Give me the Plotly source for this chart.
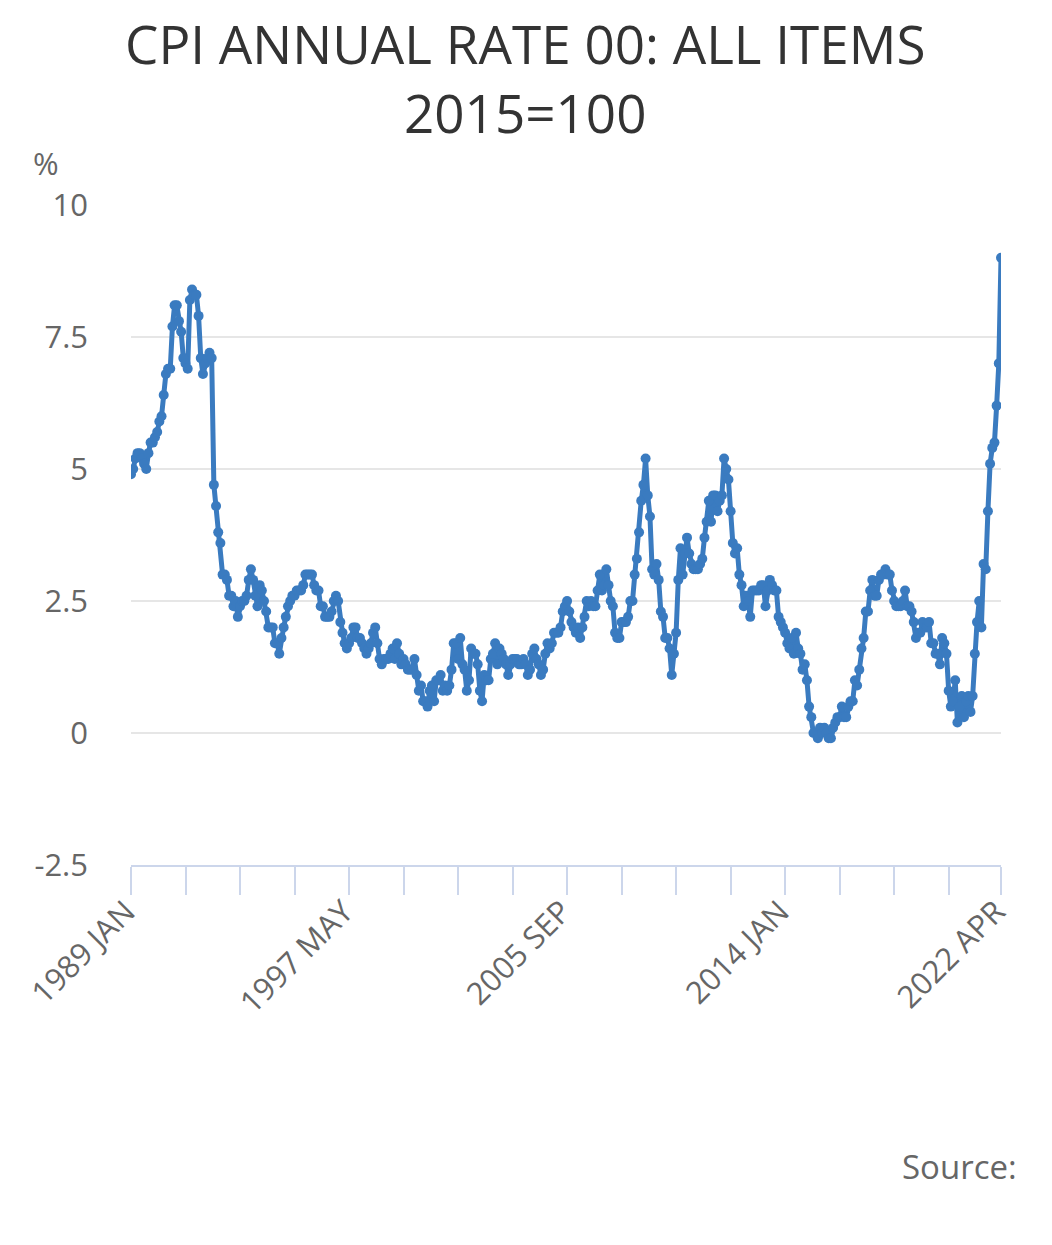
import plotly.graph_objects as go

# ---- data: UK CPI annual rate, monthly (%) ----
cpi_1989 = [4.9, 5.0, 5.2, 5.3, 5.3, 5.2, 5.1, 5.0, 5.3, 5.5, 5.5, 5.6]
cpi_1990 = [5.7, 5.9, 6.0, 6.4, 6.8, 6.9, 6.9, 7.7, 8.1, 8.1, 7.8, 7.6]
cpi_1991 = [7.1, 7.0, 6.9, 8.2, 8.4, 8.3, 8.3, 7.9, 7.1, 6.8, 7.0, 7.1]
cpi_1992 = [7.2, 7.1, 4.7, 4.3, 3.8, 3.6, 3.0, 3.0, 2.9, 2.6, 2.6, 2.4]
cpi_1993 = [2.5, 2.2, 2.4, 2.5, 2.5, 2.6, 2.9, 3.1, 2.9, 2.6, 2.4, 2.8]
cpi_1994 = [2.7, 2.5, 2.3, 2.0, 2.0, 2.0, 1.7, 1.7, 1.5, 1.8, 2.0, 2.2]
cpi_1995 = [2.4, 2.5, 2.6, 2.6, 2.7, 2.7, 2.7, 2.8, 3.0, 3.0, 3.0, 3.0]
cpi_1996 = [2.8, 2.7, 2.7, 2.4, 2.4, 2.2, 2.2, 2.2, 2.3, 2.5, 2.6, 2.5]
cpi_1997 = [2.1, 1.9, 1.7, 1.6, 1.7, 1.8, 2.0, 2.0, 1.8, 1.8, 1.7, 1.6]
cpi_1998 = [1.5, 1.6, 1.7, 1.9, 2.0, 1.7, 1.4, 1.3, 1.4, 1.4, 1.4, 1.5]
cpi_1999 = [1.6, 1.4, 1.7, 1.5, 1.3, 1.4, 1.3, 1.2, 1.2, 1.2, 1.4, 1.1]
cpi_2000 = [0.8, 0.9, 0.6, 0.6, 0.5, 0.8, 0.9, 0.6, 1.0, 1.0, 1.1, 0.8]
cpi_2001 = [0.9, 0.8, 0.9, 1.2, 1.7, 1.7, 1.4, 1.8, 1.3, 1.2, 0.8, 1.0]
cpi_2002 = [1.6, 1.5, 1.5, 1.3, 0.8, 0.6, 1.1, 1.0, 1.0, 1.4, 1.5, 1.7]
cpi_2003 = [1.3, 1.6, 1.5, 1.4, 1.3, 1.1, 1.3, 1.4, 1.4, 1.4, 1.3, 1.3]
cpi_2004 = [1.4, 1.3, 1.1, 1.2, 1.5, 1.6, 1.4, 1.3, 1.1, 1.2, 1.5, 1.7]
cpi_2005 = [1.6, 1.7, 1.9, 1.9, 1.9, 2.0, 2.3, 2.4, 2.5, 2.3, 2.1, 2.0]
cpi_2006 = [1.9, 2.0, 1.8, 2.0, 2.2, 2.5, 2.4, 2.5, 2.4, 2.4, 2.7, 3.0]
cpi_2007 = [2.7, 2.8, 3.1, 2.8, 2.5, 2.4, 1.9, 1.8, 1.8, 2.1, 2.1, 2.1]
cpi_2008 = [2.2, 2.5, 2.5, 3.0, 3.3, 3.8, 4.4, 4.7, 5.2, 4.5, 4.1, 3.1]
cpi_2009 = [3.0, 3.2, 2.9, 2.3, 2.2, 1.8, 1.8, 1.6, 1.1, 1.5, 1.9, 2.9]
cpi_2010 = [3.5, 3.0, 3.4, 3.7, 3.4, 3.2, 3.1, 3.1, 3.1, 3.2, 3.3, 3.7]
cpi_2011 = [4.0, 4.4, 4.0, 4.5, 4.5, 4.2, 4.4, 4.5, 5.2, 5.0, 4.8, 4.2]
cpi_2012 = [3.6, 3.4, 3.5, 3.0, 2.8, 2.4, 2.6, 2.5, 2.2, 2.7, 2.7, 2.7]
cpi_2013 = [2.7, 2.8, 2.8, 2.4, 2.7, 2.9, 2.8, 2.7, 2.7, 2.2, 2.1, 2.0]
cpi_2014 = [1.9, 1.7, 1.6, 1.8, 1.5, 1.9, 1.6, 1.5, 1.2, 1.3, 1.0, 0.5]
cpi_2015 = [0.3, 0.0, 0.0, -0.1, 0.1, 0.0, 0.1, 0.0, -0.1, -0.1, 0.1, 0.2]
cpi_2016 = [0.3, 0.3, 0.5, 0.3, 0.3, 0.5, 0.6, 0.6, 1.0, 0.9, 1.2, 1.6]
cpi_2017 = [1.8, 2.3, 2.3, 2.7, 2.9, 2.6, 2.6, 2.9, 3.0, 3.0, 3.1, 3.0]
cpi_2018 = [3.0, 2.7, 2.5, 2.4, 2.4, 2.4, 2.5, 2.7, 2.4, 2.4, 2.3, 2.1]
cpi_2019 = [1.8, 1.9, 1.9, 2.1, 2.0, 2.0, 2.1, 1.7, 1.7, 1.5, 1.5, 1.3]
cpi_2020 = [1.8, 1.7, 1.5, 0.8, 0.5, 0.6, 1.0, 0.2, 0.5, 0.7, 0.3, 0.6]
cpi_2021 = [0.7, 0.4, 0.7, 1.5, 2.1, 2.5, 2.0, 3.2, 3.1, 4.2, 5.1, 5.4]
cpi_2022 = [5.5, 6.2, 7.0, 9.0]

month_names = ["JAN", "FEB", "MAR", "APR", "MAY", "JUN",
               "JUL", "AUG", "SEP", "OCT", "NOV", "DEC"]
years = list(range(1989, 2023))
labelled_months = ["1989 JAN", "1997 MAY", "2005 SEP", "2014 JAN", "2022 APR"]
y_ticks = [-2.5, 0, 2.5, 5, 7.5, 10]
y_tick_text = ["-2.5", "0", "2.5", "5", "7.5", "10"]
title_text = "CPI ANNUAL RATE 00: ALL ITEMS<br>2015=100"

yearly = [cpi_1989, cpi_1990, cpi_1991, cpi_1992, cpi_1993, cpi_1994, cpi_1995,
          cpi_1996, cpi_1997, cpi_1998, cpi_1999, cpi_2000, cpi_2001, cpi_2002,
          cpi_2003, cpi_2004, cpi_2005, cpi_2006, cpi_2007, cpi_2008, cpi_2009,
          cpi_2010, cpi_2011, cpi_2012, cpi_2013, cpi_2014, cpi_2015, cpi_2016,
          cpi_2017, cpi_2018, cpi_2019, cpi_2020, cpi_2021, cpi_2022]

months, values = [], []
for yr, vals in zip(years, yearly):
    for i, v in enumerate(vals):
        months.append(f"{yr} {month_names[i]}")
        values.append(v)

# tick marks every 25 months plus the final month
tick_idx = list(range(0, len(months), 25)) + [len(months) - 1]
tick_vals = [months[i] for i in tick_idx]
tick_text = [m if m in labelled_months else "" for m in tick_vals]

# page has an 8px body margin; figure sized to fit the 1052x1245 window
OFF = 8
W, H = 1052 - 2 * OFF, 1245 - 2 * OFF
PLOT_L, PLOT_R, PLOT_T, PLOT_B = 131, 1001, 205, 865   # page pixels
L, R = PLOT_L - OFF, (W + OFF) - PLOT_R
T, B = PLOT_T - OFF, (H + OFF) - PLOT_B
pw, ph = PLOT_R - PLOT_L, PLOT_B - PLOT_T


def px(xp):  # page x -> paper
    return (xp - PLOT_L) / pw


def py(yp):  # page y -> paper
    return (PLOT_B - yp) / ph


FONT = "Open Sans"
BLUE = "#3a7bc0"
GREY_TXT = "#666666"

fig = go.Figure()
fig.add_trace(go.Scatter(
    x=months, y=values, mode="lines+markers",
    line=dict(color=BLUE, width=5),
    marker=dict(color=BLUE, size=10),
    hoverinfo="x+y", showlegend=False,
))

fig.update_layout(
    width=W, height=H,
    margin=dict(l=L, r=R, t=T, b=B, pad=0),
    paper_bgcolor="white", plot_bgcolor="white",
    font=dict(family=FONT, color=GREY_TXT, size=31),
    xaxis=dict(
        type="category", range=[0, len(months) - 1],
        tickmode="array", tickvals=tick_vals, ticktext=tick_text,
        tickangle=-45, ticks="outside", ticklen=28, tickwidth=2,
        tickcolor="#ccd6eb", showline=True, linecolor="#ccd6eb", linewidth=2,
        showgrid=False, zeroline=False,
        ticklabelstandoff=-14, ticklabelshift=-5,
        tickfont=dict(family=FONT, size=31, color=GREY_TXT),
    ),
    yaxis=dict(
        range=[-2.5, 10], tickmode="array", tickvals=y_ticks, ticktext=y_tick_text,
        showgrid=True, gridcolor="#e6e6e6", gridwidth=2,
        zeroline=False, showline=False, ticks="",
        ticklabelstandoff=42,
        tickfont=dict(family=FONT, size=31, color=GREY_TXT),
    ),
    annotations=[
        dict(text=title_text, x=px(525), y=py(78), xref="paper", yref="paper",
             xanchor="center", yanchor="middle", align="center", showarrow=False,
             font=dict(family=FONT, size=53, color="#333333")),
        dict(text="%", x=px(46), y=py(163), xref="paper", yref="paper",
             xanchor="center", yanchor="middle", showarrow=False,
             font=dict(family=FONT, size=31, color=GREY_TXT)),
        dict(text="Source:", x=px(1019), y=py(1166), xref="paper", yref="paper",
             xanchor="right", yanchor="middle", showarrow=False,
             font=dict(family=FONT, size=33, color=GREY_TXT)),
    ],
)

fig.write_html("out.html")
